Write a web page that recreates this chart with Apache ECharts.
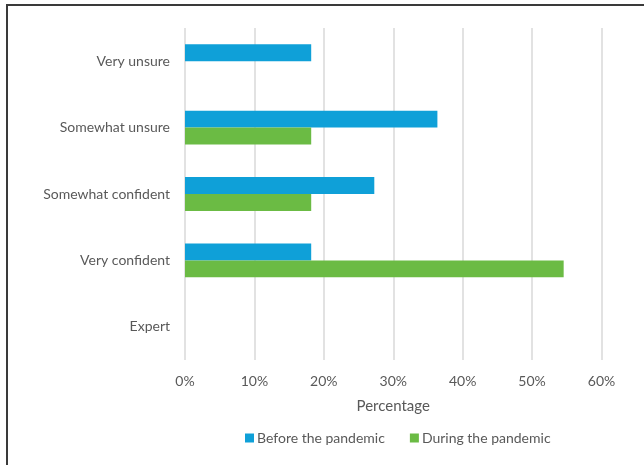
<!DOCTYPE html>
<html><head><meta charset="utf-8">
<script src="https://cdn.jsdelivr.net/npm/echarts@6/dist/echarts.min.js"></script>
<style>
html,body{margin:0;padding:0;background:#fff;}
#frame{position:absolute;left:6px;top:4px;width:700px;height:500px;border-top:2px solid #3a3a3a;border-left:2px solid #3a3a3a;}
#chart{position:absolute;left:0;top:0;width:644px;height:465px;}
</style></head>
<body>
<div id="frame"></div>
<div id="chart"></div>
<script>
var categories = ['Very unsure', 'Somewhat unsure', 'Somewhat confident', 'Very confident', 'Expert'];
var beforeValues = [18.18, 36.36, 27.27, 18.18, 0];
var duringValues = [0, 18.18, 18.18, 54.55, 0];
var seriesNames = ['Before the pandemic', 'During the pandemic'];
var xTicks = [0, 10, 20, 30, 40, 50, 60];

var font = 'Lato, "Open Sans", sans-serif';
var chart = echarts.init(document.getElementById('chart'), null, {renderer: 'canvas'});
chart.setOption({
  animation: false,
  backgroundColor: 'transparent',
  textStyle: {fontFamily: font},
  grid: {left: 185, right: 42.5, top: 28, bottom: 105, containLabel: false},
  legend: {
    bottom: 15, left: 240,
    itemWidth: 9, itemHeight: 9, itemGap: 25, icon: 'rect',
    textStyle: {color: '#595959', fontSize: 14, fontFamily: font, padding: [0,0,0,-2]},
    data: seriesNames
  },
  xAxis: {
    type: 'value', min: xTicks[0], max: xTicks[xTicks.length-1], interval: 10,
    name: 'Percentage', nameLocation: 'middle', nameGap: 39,
    nameTextStyle: {color: '#595959', fontSize: 15, fontFamily: font},
    axisLine: {show: false}, axisTick: {show: false},
    axisLabel: {color: '#595959', fontSize: 14, fontFamily: font, margin: 14, formatter: function(v){return v + '%';}},
    splitLine: {show: true, lineStyle: {color: '#d9d9d9', width: 1.5}}
  },
  yAxis: {
    type: 'category', data: categories, inverse: true,
    axisLine: {show: false}, axisTick: {show: false},
    axisLabel: {color: '#595959', fontSize: 14, fontFamily: font, margin: 15}
  },
  series: [
    {name: seriesNames[0], type: 'bar', data: beforeValues, barGap: '0%', barCategoryGap: '49%',
     itemStyle: {color: '#0fa0d8'}},
    {name: seriesNames[1], type: 'bar', data: duringValues, barGap: '0%', barCategoryGap: '49%',
     itemStyle: {color: '#6bbb44'}}
  ]
});
</script>
</body></html>
